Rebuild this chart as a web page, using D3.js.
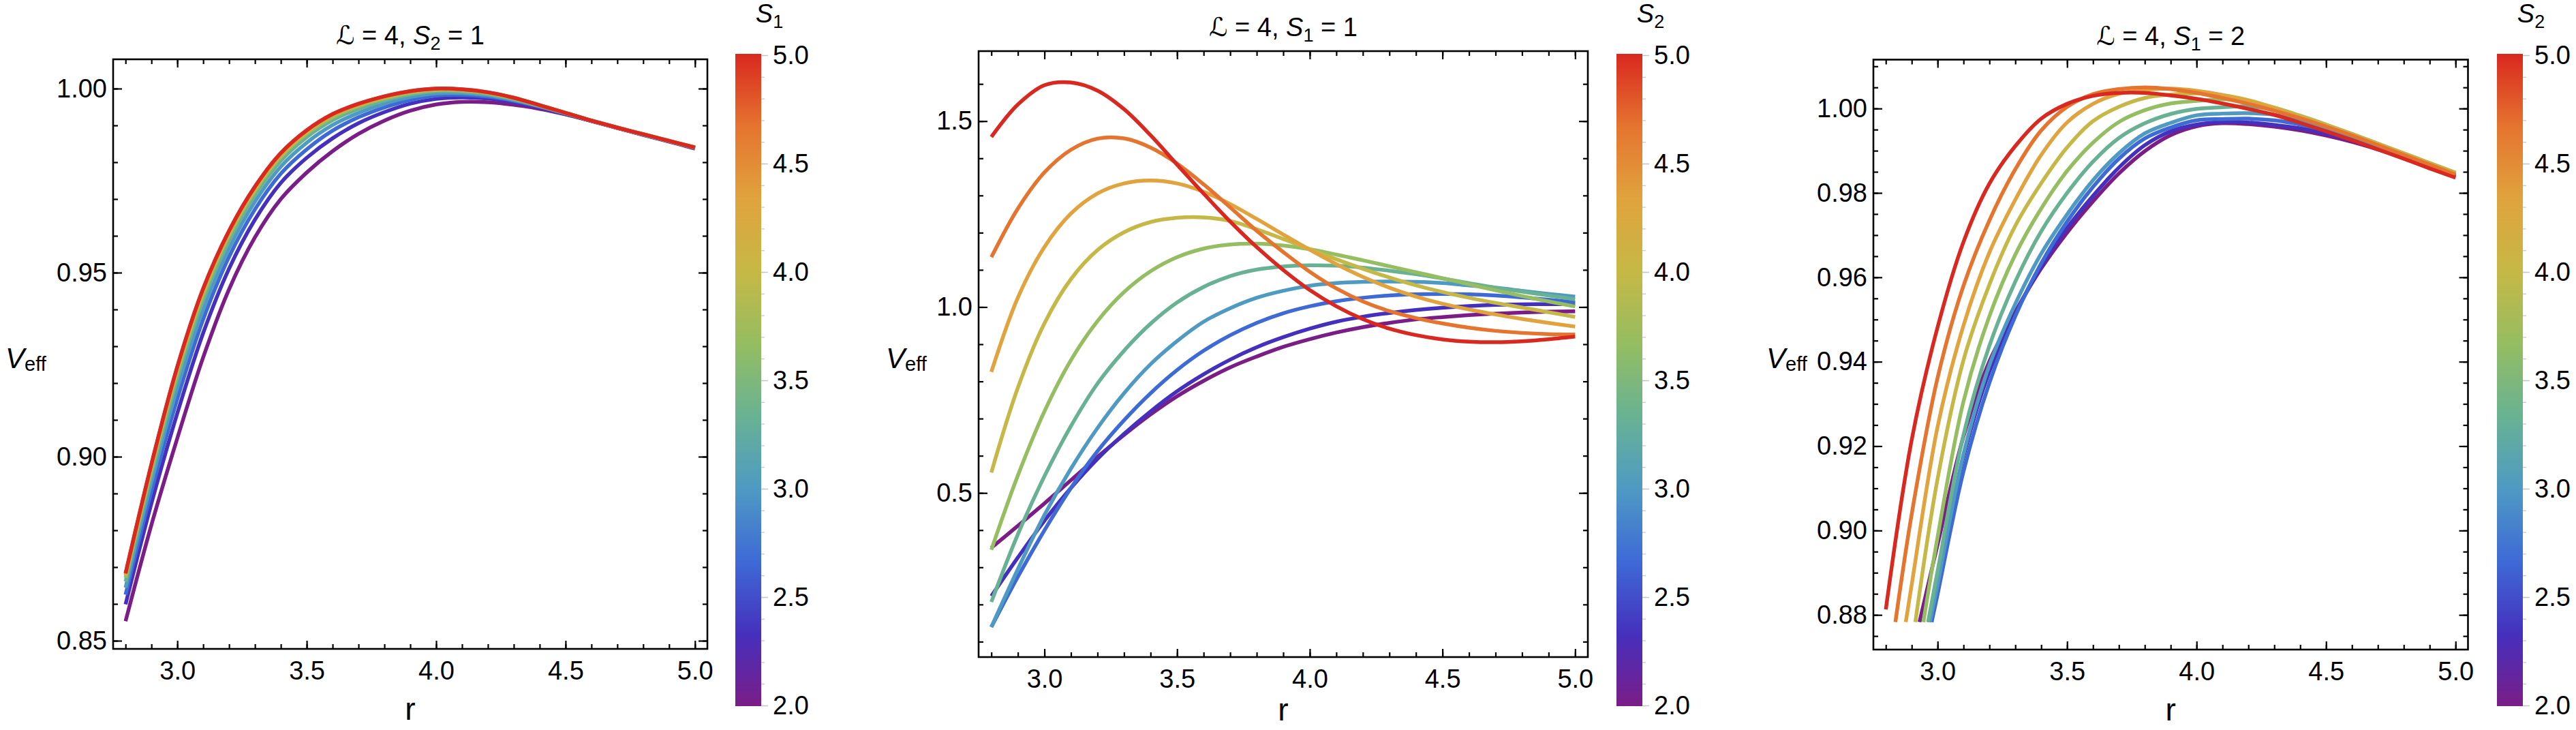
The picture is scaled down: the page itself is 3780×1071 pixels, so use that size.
<!DOCTYPE html>
<html>
<head>
<meta charset="utf-8">
<script src="https://cdn.jsdelivr.net/npm/d3@7/dist/d3.min.js"></script>
<style>
  body { margin: 0; background: #fff; }
  text { font-family: "Liberation Sans", Arial, sans-serif; fill: #000; }
</style>
</head>
<body>
<svg id="chart" width="3780" height="1071"></svg>
<script>
// radius samples shared by every curve
const rGrid = [2.8, 2.9, 3.0, 3.1, 3.2, 3.3, 3.4, 3.5, 3.6, 3.7, 3.8, 3.9, 4.0, 4.1, 4.2, 4.3, 4.4, 4.5, 4.6, 4.7, 4.8, 4.9, 5.0];

// spin value of each curve (colour key) and the colours
const spinValues = [2, 2.333, 2.667, 3, 3.333, 3.667, 4, 4.333, 4.667, 5];
const spinColors = ["#7b1d87", "#4530bd", "#3e6ad6", "#4e9ac3", "#68b293", "#95bd61", "#c6b846", "#e0a33d", "#e5742f", "#d9281f"];
const legendTicks = [2.0, 2.5, 3.0, 3.5, 4.0, 4.5, 5.0];
const xTicks = [3.0, 3.5, 4.0, 4.5, 5.0];

// panel 1: L = 4, S2 = 1, one curve per S1
const veffS1 = [
  [0.8553, 0.8815, 0.9050, 0.9270, 0.9455, 0.9596, 0.9700, 0.9772, 0.9830, 0.9877, 0.9913, 0.9940, 0.9957, 0.9964, 0.9963, 0.9956, 0.9945, 0.9930, 0.9912, 0.9893, 0.9874, 0.9856, 0.9837],
  [0.8599, 0.8873, 0.9118, 0.9336, 0.9511, 0.9644, 0.9744, 0.9812, 0.9865, 0.9906, 0.9936, 0.9959, 0.9972, 0.9976, 0.9973, 0.9963, 0.9949, 0.9931, 0.9912, 0.9893, 0.9875, 0.9857, 0.9838],
  [0.8625, 0.8906, 0.9157, 0.9373, 0.9543, 0.9672, 0.9769, 0.9835, 0.9886, 0.9922, 0.9949, 0.9969, 0.9981, 0.9983, 0.9978, 0.9967, 0.9951, 0.9932, 0.9913, 0.9894, 0.9875, 0.9857, 0.9839],
  [0.8644, 0.8931, 0.9187, 0.9401, 0.9566, 0.9693, 0.9788, 0.9853, 0.9901, 0.9934, 0.9959, 0.9977, 0.9987, 0.9988, 0.9982, 0.9969, 0.9952, 0.9933, 0.9913, 0.9894, 0.9875, 0.9857, 0.9839],
  [0.8661, 0.8952, 0.9212, 0.9425, 0.9587, 0.9711, 0.9804, 0.9868, 0.9914, 0.9945, 0.9968, 0.9984, 0.9993, 0.9992, 0.9985, 0.9972, 0.9953, 0.9933, 0.9913, 0.9894, 0.9876, 0.9858, 0.9839],
  [0.8671, 0.8965, 0.9228, 0.9440, 0.9600, 0.9722, 0.9814, 0.9877, 0.9922, 0.9952, 0.9973, 0.9988, 0.9996, 0.9995, 0.9988, 0.9973, 0.9954, 0.9934, 0.9913, 0.9894, 0.9876, 0.9858, 0.9840],
  [0.8677, 0.8973, 0.9236, 0.9449, 0.9607, 0.9728, 0.9819, 0.9882, 0.9927, 0.9955, 0.9976, 0.9991, 0.9998, 0.9997, 0.9989, 0.9974, 0.9955, 0.9934, 0.9913, 0.9894, 0.9876, 0.9858, 0.9840],
  [0.8680, 0.8976, 0.9241, 0.9453, 0.9611, 0.9731, 0.9822, 0.9885, 0.9929, 0.9957, 0.9978, 0.9992, 0.9999, 0.9997, 0.9989, 0.9975, 0.9955, 0.9934, 0.9913, 0.9894, 0.9876, 0.9858, 0.9840],
  [0.8682, 0.8979, 0.9243, 0.9456, 0.9613, 0.9733, 0.9824, 0.9886, 0.9930, 0.9958, 0.9979, 0.9993, 1.0000, 0.9998, 0.9990, 0.9975, 0.9955, 0.9934, 0.9913, 0.9894, 0.9876, 0.9858, 0.9840],
  [0.8683, 0.8980, 0.9245, 0.9457, 0.9614, 0.9734, 0.9825, 0.9887, 0.9931, 0.9959, 0.9979, 0.9993, 1.0000, 0.9998, 0.9990, 0.9975, 0.9955, 0.9934, 0.9913, 0.9894, 0.9876, 0.9858, 0.9840]
];

// panel 2: L = 4, S1 = 1, one curve per S2
const veffS2a = [
  [0.3524, 0.4116, 0.4719, 0.5343, 0.5967, 0.6559, 0.7110, 0.7599, 0.8015, 0.8378, 0.8669, 0.8929, 0.9137, 0.9314, 0.9459, 0.9574, 0.9667, 0.9730, 0.9782, 0.9823, 0.9854, 0.9875, 0.9886],
  [0.2225, 0.3264, 0.4252, 0.5135, 0.5915, 0.6590, 0.7193, 0.7734, 0.8191, 0.8586, 0.8919, 0.9189, 0.9418, 0.9605, 0.9740, 0.9840, 0.9920, 0.9983, 1.0028, 1.0058, 1.0072, 1.0078, 1.0080],
  [0.1393, 0.2744, 0.3992, 0.5135, 0.6123, 0.6954, 0.7682, 0.8306, 0.8825, 0.9241, 0.9574, 0.9834, 1.0021, 1.0156, 1.0249, 1.0312, 1.0343, 1.0353, 1.0343, 1.0312, 1.0260, 1.0198, 1.0125],
  [0.1393, 0.2952, 0.4407, 0.5655, 0.6746, 0.7682, 0.8462, 0.9085, 0.9605, 0.9969, 1.0249, 1.0437, 1.0572, 1.0644, 1.0676, 1.0686, 1.0676, 1.0644, 1.0582, 1.0520, 1.0437, 1.0353, 1.0281],
  [0.2069, 0.3888, 0.5447, 0.6798, 0.7942, 0.8825, 0.9553, 1.0125, 1.0541, 1.0832, 1.1008, 1.1091, 1.1123, 1.1112, 1.1060, 1.0977, 1.0884, 1.0769, 1.0644, 1.0520, 1.0416, 1.0312, 1.0208],
  [0.3472, 0.5472, 0.7192, 0.8572, 0.9622, 1.0402, 1.0962, 1.1342, 1.1572, 1.1682, 1.1702, 1.1652, 1.1552, 1.1412, 1.1257, 1.1097, 1.0937, 1.0777, 1.0614, 1.0451, 1.0296, 1.0151, 1.0016],
  [0.5551, 0.7831, 0.9561, 1.0751, 1.1531, 1.2011, 1.2286, 1.2401, 1.2411, 1.2316, 1.2090, 1.1830, 1.1555, 1.1285, 1.1030, 1.0795, 1.0585, 1.0405, 1.0250, 1.0112, 0.9985, 0.9860, 0.9735],
  [0.8254, 1.0254, 1.1614, 1.2514, 1.3054, 1.3324, 1.3404, 1.3324, 1.3100, 1.2770, 1.2370, 1.1950, 1.1540, 1.1155, 1.0812, 1.0520, 1.0280, 1.0090, 0.9935, 0.9800, 0.9680, 0.9572, 0.9475],
  [1.1341, 1.2650, 1.3620, 1.4230, 1.4530, 1.4535, 1.4290, 1.3860, 1.3300, 1.2680, 1.2050, 1.1480, 1.0950, 1.0500, 1.0150, 0.9890, 0.9705, 0.9560, 0.9445, 0.9360, 0.9305, 0.9272, 0.9262],
  [1.4574, 1.5447, 1.5967, 1.6040, 1.5821, 1.5322, 1.4620, 1.3830, 1.3050, 1.2300, 1.1611, 1.0998, 1.0457, 1.0020, 0.9675, 0.9420, 0.9245, 0.9130, 0.9070, 0.9055, 0.9080, 0.9135, 0.9205]
];

// panel 3: L = 4, S1 = 2, one curve per S2; curves enter at the bottom of the plot range
const veffS2b = [
  [null, null, 0.8967, 0.9223, 0.9401, 0.9518, 0.9621, 0.9706, 0.9780, 0.9846, 0.9899, 0.9937, 0.9958, 0.9965, 0.9963, 0.9957, 0.9948, 0.9936, 0.9921, 0.9903, 0.9883, 0.9861, 0.9839],
  [null, null, 0.8882, 0.9175, 0.9377, 0.9514, 0.9626, 0.9717, 0.9793, 0.9860, 0.9913, 0.9946, 0.9962, 0.9968, 0.9967, 0.9961, 0.9953, 0.9941, 0.9925, 0.9906, 0.9885, 0.9863, 0.9840],
  [null, null, 0.8849, 0.9140, 0.9350, 0.9508, 0.9633, 0.9732, 0.9814, 0.9881, 0.9929, 0.9955, 0.9972, 0.9975, 0.9976, 0.9972, 0.9962, 0.9948, 0.9930, 0.9909, 0.9887, 0.9865, 0.9842],
  [null, null, 0.8873, 0.9181, 0.9392, 0.9537, 0.9656, 0.9749, 0.9830, 0.9894, 0.9941, 0.9966, 0.9984, 0.9988, 0.9989, 0.9985, 0.9972, 0.9955, 0.9935, 0.9913, 0.9891, 0.9868, 0.9845],
  [null, null, 0.8904, 0.9227, 0.9438, 0.9590, 0.9709, 0.9800, 0.9874, 0.9930, 0.9965, 0.9987, 0.9999, 1.0003, 1.0005, 0.9997, 0.9981, 0.9961, 0.9939, 0.9916, 0.9893, 0.9870, 0.9847],
  [null, null, 0.8985, 0.9306, 0.9508, 0.9654, 0.9763, 0.9852, 0.9919, 0.9968, 0.9996, 1.0012, 1.0018, 1.0022, 1.0016, 1.0002, 0.9983, 0.9962, 0.9940, 0.9917, 0.9894, 0.9871, 0.9848],
  [null, null, 0.9123, 0.9404, 0.9583, 0.9722, 0.9823, 0.9908, 0.9970, 1.0004, 1.0025, 1.0033, 1.0036, 1.0032, 1.0020, 1.0002, 0.9982, 0.9961, 0.9939, 0.9916, 0.9893, 0.9870, 0.9847],
  [null, 0.8872, 0.9246, 0.9486, 0.9659, 0.9784, 0.9890, 0.9967, 1.0011, 1.0035, 1.0044, 1.0047, 1.0042, 1.0032, 1.0018, 1.0000, 0.9980, 0.9959, 0.9938, 0.9915, 0.9892, 0.9869, 0.9846],
  [null, 0.9039, 0.9362, 0.9580, 0.9735, 0.9856, 0.9948, 1.0004, 1.0034, 1.0046, 1.0050, 1.0046, 1.0037, 1.0025, 1.0011, 0.9995, 0.9977, 0.9957, 0.9936, 0.9913, 0.9890, 0.9867, 0.9843],
  [0.8813, 0.9215, 0.9482, 0.9684, 0.9822, 0.9911, 0.9976, 1.0011, 1.0030, 1.0037, 1.0037, 1.0031, 1.0023, 1.0012, 0.9999, 0.9985, 0.9966, 0.9946, 0.9925, 0.9903, 0.9881, 0.9858, 0.9836]
];
// where each panel-3 curve enters the plot range
const entryR = [2.930, 2.965, 2.977, 2.970, 2.963, 2.945, 2.914, 2.877, 2.837, 2.800];
const entryV = [0.8783, 0.8783, 0.8783, 0.8783, 0.8783, 0.8783, 0.8783, 0.8783, 0.8783, 0.8813];

const y1Ticks = [0.85, 0.90, 0.95, 1.00];
const y2Ticks = [0.5, 1.0, 1.5];
const y3Ticks = [0.88, 0.90, 0.92, 0.94, 0.96, 0.98, 1.00];

// title pieces: "L = 4, S<sub> = <val>" and the colour-bar symbol
const lValue = "4";
const titleSub = ["2", "1", "1"];
const titleVal = ["1", "1", "2"];
const legendSub = ["1", "2", "2"];

const svg = d3.select("#chart");
const FONT = 38;

const xDomain = [2.752, 5.048];
const panels = [
  { series: veffS1, yDomain: [0.84778, 1.00796], yTicks: y1Ticks, yMinor: 0.01, yFmt: ".2f",
    box: { x0: 166, x1: 1038, y0: 87, y1: 952 }, cbX: 1079, veffX: 8 },
  { series: veffS2a, yDomain: [0.0586, 1.6883], yTicks: y2Ticks, yMinor: 0.1, yFmt: ".1f",
    box: { x0: 1436, x1: 2330, y0: 75, y1: 964 }, cbX: 2372, veffX: 1300 },
  { series: veffS2b, yDomain: [0.87179, 1.01158], yTicks: y3Ticks, yMinor: 0.005, yFmt: ".2f",
    box: { x0: 2749, x1: 3621.5, y0: 87.5, y1: 953 }, cbX: 3664, veffX: 2592, entry: true }
];

const colorOf = d3.scaleLinear().domain(spinValues).range(spinColors).interpolate(d3.interpolateRgb);

function stepTicks(lo, hi, step) {
  const a = Math.ceil(lo / step - 1e-6), b = Math.floor(hi / step + 1e-6);
  return d3.range(a, b + 1).map(i => +(i * step).toFixed(4));
}

const defs = svg.append("defs");
const grad = defs.append("linearGradient").attr("id", "rainbow")
  .attr("x1", 0).attr("y1", 1).attr("x2", 0).attr("y2", 0);
grad.selectAll("stop").data(spinValues).join("stop")
  .attr("offset", d => (d - 2) / 3)
  .attr("stop-color", d => colorOf(d));

function styleAxis(g, size) {
  g.select(".domain").remove();
  g.selectAll(".tick line").attr("stroke", "#000").attr("stroke-width", 2.2);
  g.attr("font-size", size).attr("font-family", "Liberation Sans, Arial, sans-serif");
}

panels.forEach((p, k) => {
  const b = p.box;
  const x = d3.scaleLinear().domain(xDomain).range([b.x0, b.x1]);
  const y = d3.scaleLinear().domain(p.yDomain).range([b.y1, b.y0]);
  const g = svg.append("g");

  defs.append("clipPath").attr("id", "clip" + k)
    .append("rect").attr("x", b.x0).attr("y", b.y0)
    .attr("width", b.x1 - b.x0).attr("height", b.y1 - b.y0);

  const line = d3.line()
    .x(d => x(d[0])).y(d => y(d[1]))
    .curve(d3.curveCatmullRom.alpha(0.5));

  const points = (vals, i) => {
    let pts = rGrid.map((r, j) => [r, vals[j]]).filter(d => d[1] != null);
    if (p.entry) {
      pts = pts.filter(d => d[0] > entryR[i] + 1e-6);
      pts.unshift([entryR[i], entryV[i]]);
    }
    return pts;
  };

  g.append("g").attr("clip-path", `url(#clip${k})`)
    .selectAll("path").data(p.series).join("path")
    .attr("d", (vals, i) => line(points(vals, i)))
    .attr("fill", "none")
    .attr("stroke", (d, i) => colorOf(spinValues[i]))
    .attr("stroke-width", 5.5)
    .attr("stroke-linejoin", "round");

  // frame ticks, pointing inwards on all four sides
  const xMinor = stepTicks(xDomain[0], xDomain[1], 0.1);
  const yMinor = stepTicks(p.yDomain[0], p.yDomain[1], p.yMinor);
  const fmtX = d3.format(".1f"), fmtY = d3.format(p.yFmt);

  const addAxis = (axis, tr) => {
    const a = g.append("g").attr("transform", tr).call(axis);
    styleAxis(a, FONT);
    return a;
  };
  addAxis(d3.axisBottom(x).tickValues(xMinor).tickSizeInner(-7).tickSizeOuter(0).tickFormat(""), `translate(0,${b.y1})`);
  addAxis(d3.axisBottom(x).tickValues(xTicks).tickSizeInner(-12).tickSizeOuter(0).tickPadding(18).tickFormat(fmtX), `translate(0,${b.y1})`);
  addAxis(d3.axisTop(x).tickValues(xMinor).tickSizeInner(-7).tickSizeOuter(0).tickFormat(""), `translate(0,${b.y0})`);
  addAxis(d3.axisTop(x).tickValues(xTicks).tickSizeInner(-12).tickSizeOuter(0).tickFormat(""), `translate(0,${b.y0})`);
  addAxis(d3.axisLeft(y).tickValues(yMinor).tickSizeInner(-7).tickSizeOuter(0).tickFormat(""), `translate(${b.x0},0)`);
  addAxis(d3.axisLeft(y).tickValues(p.yTicks).tickSizeInner(-13).tickSizeOuter(0).tickPadding(9).tickFormat(fmtY), `translate(${b.x0},0)`);
  addAxis(d3.axisRight(y).tickValues(yMinor).tickSizeInner(-7).tickSizeOuter(0).tickFormat(""), `translate(${b.x1},0)`);
  addAxis(d3.axisRight(y).tickValues(p.yTicks).tickSizeInner(-13).tickSizeOuter(0).tickFormat(""), `translate(${b.x1},0)`);

  g.append("rect")
    .attr("x", b.x0).attr("y", b.y0)
    .attr("width", b.x1 - b.x0).attr("height", b.y1 - b.y0)
    .attr("fill", "none").attr("stroke", "#000").attr("stroke-width", 2.6);

  // title
  const cx = (b.x0 + b.x1) / 2;
  const t = g.append("text").attr("x", cx).attr("y", b.y0 - 22)
    .attr("text-anchor", "middle").attr("font-size", FONT);
  t.append("tspan").attr("font-family", "DejaVu Serif, DejaVu Sans, serif").attr("font-style", "italic").text("\u2112");
  t.append("tspan").text(" = " + lValue + ", ");
  t.append("tspan").attr("font-style", "italic").text("S");
  t.append("tspan").attr("font-size", 27).attr("dy", 8).text(titleSub[k]);
  t.append("tspan").attr("dy", -8).text(" = " + titleVal[k]);

  // axis labels
  g.append("text").attr("x", cx).attr("y", Math.min(b.y1 + 104, 1057))
    .attr("text-anchor", "middle").attr("font-size", 46).text("r");
  const v = g.append("text").attr("x", p.veffX).attr("y", (b.y0 + b.y1) / 2 + 20)
    .attr("font-size", 42);
  v.append("tspan").attr("font-style", "italic").text("V");
  v.append("tspan").attr("font-size", 29).attr("dy", 4).text("eff");

  // colour bar
  const cb = d3.scaleLinear().domain([2, 5]).range([1035, 81]);
  const cbW = 38;
  g.append("rect").attr("x", p.cbX).attr("y", cb(5) - 2)
    .attr("width", cbW).attr("height", cb(2) - cb(5) + 3)
    .attr("fill", "url(#rainbow)");
  const cbAxis = g.append("g").attr("transform", `translate(${p.cbX + cbW},0)`)
    .call(d3.axisRight(cb).tickValues(legendTicks).tickSize(10).tickPadding(7).tickFormat(d3.format(".1f")));
  cbAxis.select(".domain").remove();
  cbAxis.attr("font-size", FONT).attr("font-family", "Liberation Sans, Arial, sans-serif");
  cbAxis.selectAll(".tick line").attr("stroke", "#c4c4c4").attr("stroke-width", 1.5);
  const cbMinor = g.append("g").attr("transform", `translate(${p.cbX + cbW},0)`)
    .call(d3.axisRight(cb).tickValues(stepTicks(2, 5, 0.1)).tickSize(5).tickFormat(""));
  cbMinor.select(".domain").remove();
  cbMinor.selectAll(".tick line").attr("stroke", "#c4c4c4").attr("stroke-width", 1.2);

  const lt = g.append("text").attr("x", p.cbX + cbW + 12).attr("y", 33)
    .attr("text-anchor", "middle").attr("font-size", FONT);
  lt.append("tspan").attr("font-style", "italic").text("S");
  lt.append("tspan").attr("font-size", 27).attr("dy", 8).text(legendSub[k]);
});
</script>
</body>
</html>
